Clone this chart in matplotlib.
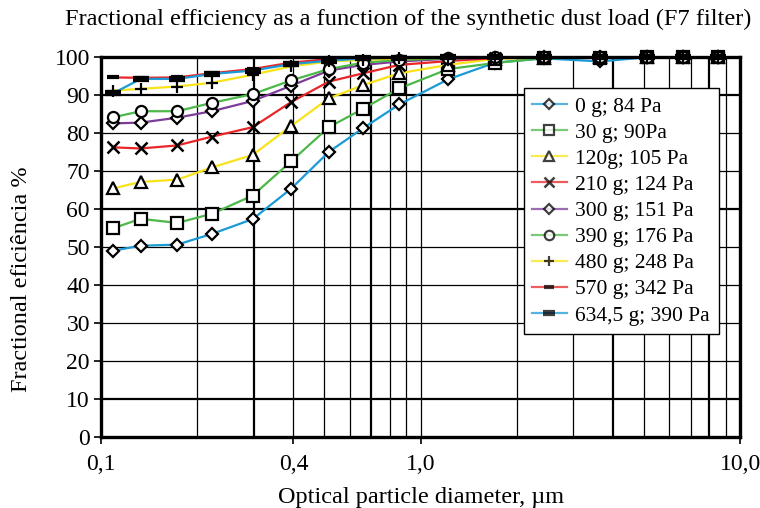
import numpy as np
import matplotlib.pyplot as plt
from matplotlib.ticker import FixedLocator, NullFormatter

plt.rcParams['font.family'] = ['Liberation Serif', 'DejaVu Serif']

# particle size channels (um)
diam = [0.109, 0.133, 0.173, 0.222, 0.298, 0.393, 0.516, 0.662, 0.857,
        1.22, 1.71, 2.44, 3.65, 5.1, 6.6, 8.5]

labels = ['0 g; 84 Pa', '30 g; 90Pa', '120g; 105 Pa', '210 g; 124 Pa',
          '300 g; 151 Pa', '390 g; 176 Pa', '480 g; 248 Pa',
          '570 g; 342 Pa', '634,5 g; 390 Pa']

eff_0 = [49.0, 50.3, 50.6, 53.4, 57.3, 65.3, 75.0, 81.3, 87.5, 94.1, 98.5, 99.6, 98.8, 99.9, 99.9, 99.9]
eff_30 = [54.9, 57.4, 56.3, 58.7, 63.5, 72.5, 81.5, 86.4, 91.7, 96.8, 98.4, 99.7, 99.8, 99.9, 99.9, 99.9]
eff_120 = [65.4, 67.1, 67.7, 70.9, 74.2, 81.8, 89.1, 92.6, 95.7, 97.9, 99.5, 99.8, 99.9, 99.9, 99.9, 99.9]
eff_210 = [76.2, 75.9, 76.7, 79.0, 81.5, 88.1, 93.5, 95.7, 97.9, 98.9, 99.7, 99.9, 99.9, 99.9, 99.9, 99.9]
eff_300 = [82.5, 82.7, 84.0, 85.7, 88.4, 92.4, 96.4, 97.9, 98.8, 99.5, 99.8, 99.9, 99.9, 99.9, 99.9, 99.9]
eff_390 = [84.1, 85.7, 85.7, 87.9, 90.2, 93.8, 96.8, 98.5, 99.2, 99.6, 99.9, 99.9, 99.9, 99.9, 99.9, 99.9]
eff_480 = [91.1, 91.6, 92.2, 93.2, 95.3, 97.5, 98.8, 99.2, 99.6, 99.8, 99.9, 99.9, 99.9, 99.9, 99.9, 99.9]
eff_570 = [94.6, 94.5, 94.6, 95.7, 96.8, 98.5, 99.4, 99.8, 99.9, 99.9, 99.9, 99.9, 99.9, 99.9, 99.9, 99.9]
eff_634 = [90.4, 94.2, 94.2, 95.5, 96.4, 98.1, 99.0, 99.6, 99.8, 99.9, 99.9, 99.9, 99.9, 99.9, 99.9, 99.9]

series = [eff_0, eff_30, eff_120, eff_210, eff_300, eff_390, eff_480, eff_570, eff_634]

blue = '#1b9ad6'
green = '#4cb848'
yellow = '#f8e21a'
red = '#e8262a'
purple = '#7d3c98'
colors = [blue, green, yellow, red, purple, green, yellow, red, blue]
markers = ['D', 's', '^', 'x', 'D', 'o', '+', '_', '_']
msizes = [6, 8, 8, 9, 6, 8, 9, 9, 11]
mews = [1.6, 1.6, 1.6, 1.8, 1.6, 1.6, 1.6, 3.0, 4.5]

fig = plt.figure(figsize=(7.6, 5.08), dpi=100)
ax = fig.add_axes([0.133, 0.14, 0.841, 0.748])

for y, c, m, ms, mw, lab in zip(series, colors, markers, msizes, mews, labels):
    ax.plot(diam, y, color=c, linewidth=1.6, marker=m, markersize=ms,
            markerfacecolor='white', markeredgecolor='black', markeredgewidth=mw,
            label=lab, zorder=3, clip_on=False)

ax.set_xscale('log')
ax.set_xlim(0.1, 10)
ax.set_ylim(0, 100)

# grid
for v in [0.2, 0.3, 0.4, 0.5, 0.6, 0.7, 0.8, 0.9, 1.0, 2, 3, 4, 5, 6, 7, 8, 9]:
    lw = 1.6 if v in (0.3, 0.7, 4, 8) else 0.9
    ax.axvline(v, color='black', linewidth=lw, zorder=1)
for v in range(10, 100, 10):
    lw = 1.6 if v in (10, 60, 90) else 0.9
    ax.axhline(v, color='black', linewidth=lw, zorder=1)

ax.xaxis.set_major_locator(FixedLocator([0.1, 0.4, 1.0, 10.0]))
ax.xaxis.set_minor_formatter(NullFormatter())
ax.xaxis.set_minor_locator(FixedLocator([]))
ax.set_xticklabels(['0,1', '0,4', '1,0', '10,0'])
ax.set_yticks(range(0, 101, 10))
ax.tick_params(axis='both', labelsize=17, length=5, width=1.2, direction='out')
ax.tick_params(axis='x', pad=7)
ax.tick_params(axis='y', pad=3)

for s in ax.spines.values():
    s.set_linewidth(2.4)
    s.set_zorder(4)

fig.text(0.537, 0.962, 'Fractional efficiency as a function of the synthetic dust load (F7 filter)',
         fontsize=17.6, ha='center', va='center')
ax.set_xlabel('Optical particle diameter, \u00b5m', fontsize=17.5, labelpad=9)
ax.set_ylabel('Fractional efici\u00eancia %', fontsize=17.5)
ax.yaxis.set_label_coords(-0.108, 0.416)

leg = ax.legend(loc='upper right', bbox_to_anchor=(0.966, 0.918), borderaxespad=0,
                fontsize=15.5, fancybox=False, framealpha=1, edgecolor='black',
                handlelength=1.6, borderpad=0.4, labelspacing=0.28, handletextpad=0.4)
leg.get_frame().set_linewidth(1.0)
leg.set_zorder(5)
for h, c in zip(leg.legend_handles, colors):
    h.set_alpha(0.75)
    h.set_markersize(h.get_markersize() * 0.85)

fig.savefig('out.png', dpi=100)
